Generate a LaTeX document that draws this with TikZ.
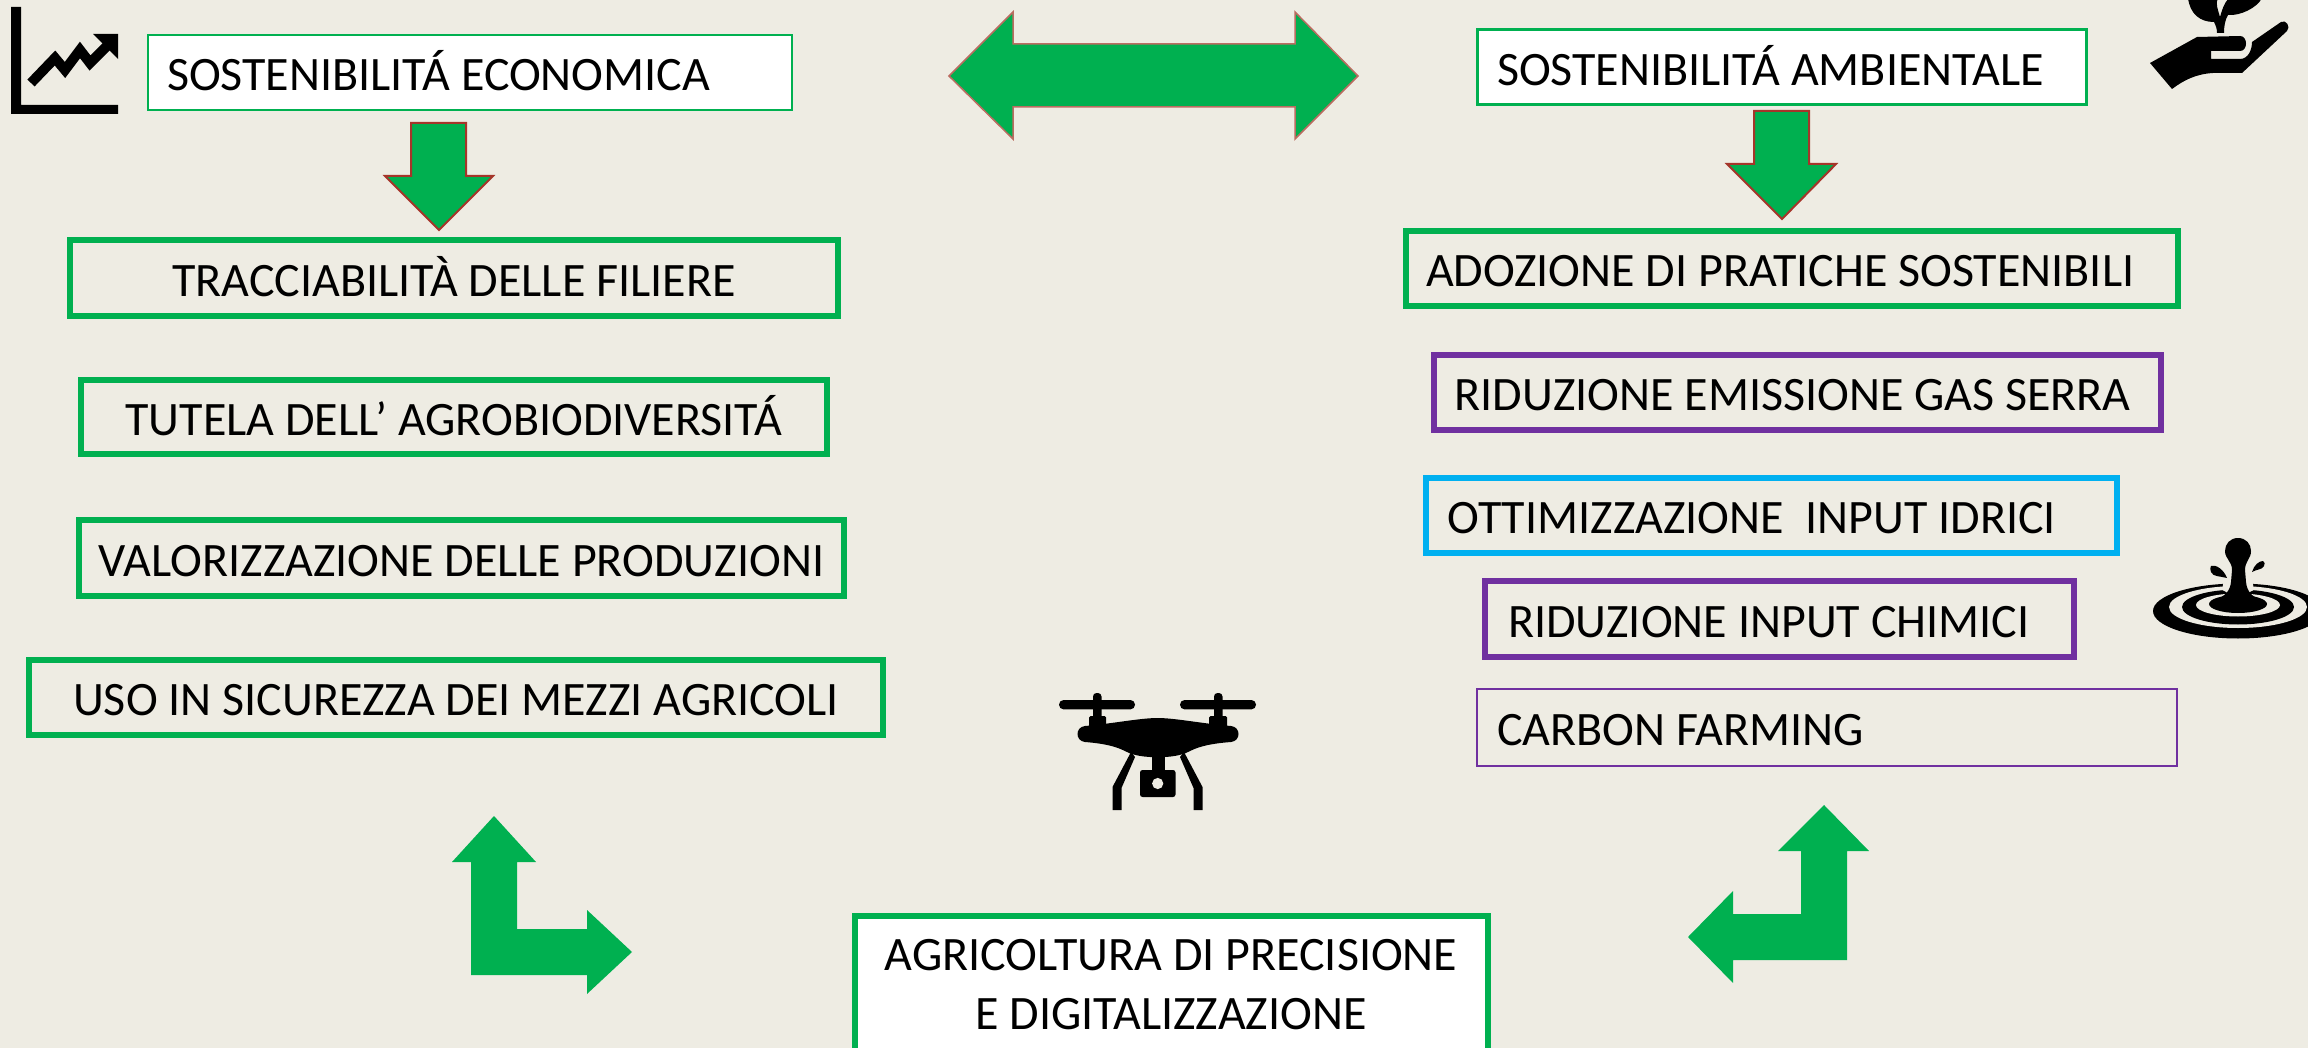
\documentclass[tikz,border=0pt]{standalone}
\usepackage{fontspec}
\setmainfont{Carlito}
\definecolor{bgc}{HTML}{EEECE3}
\definecolor{grn}{HTML}{00B050}
\definecolor{prp}{HTML}{7030A0}
\definecolor{blu}{HTML}{00B0F0}
\definecolor{red1}{HTML}{A5352A}
\tikzset{
  lbl/.style={inner sep=0pt,outer sep=0pt,font=\fontsize{48}{59}\selectfont,text=black},
  arrowa/.style={fill=grn,draw=red1,line width=2pt,line join=miter},
  arrowb/.style={fill=grn,draw=none},
  arrowc/.style={fill=grn,draw=red1!70!bgc,line width=1.5pt},
  ico/.style={fill=black,draw=none}
}
% colour, name, line width, x1,y1,x2,y2, baseline, fill; content in \bxtext
\newcommand{\bx}[9]{%
  \pgfmathsetmacro{\mycx}{(#4+#6)/2}%
  \pgfmathsetmacro{\mycy}{(#5+#7)/2}%
  \pgfmathsetmacro{\myw}{#6-#4-#3}%
  \pgfmathsetmacro{\myh}{#7-#5-#3}%
  \pgfmathsetmacro{\myr}{\mycy+13.5-#8}%
  \node[lbl,draw=#1,line width=#3pt,fill=#9,minimum width=\myw pt,minimum height=\myh pt,
        text height=30pt,text depth=0pt,anchor=center] (#2) at (\mycx,\mycy) {\raisebox{\myr pt}{\bxtext}};%
}
\begin{document}
\begin{tikzpicture}[x=1pt,y=-1pt]
\path[use as bounding box,clip] (0,0) rectangle (2308,1048);
\fill[bgc] (0,0) rectangle (2308,1048);

% boxes, left column
\def\bxtext{\makebox[644pt][l]{\hspace*{19pt}SOSTENIBILITÁ ECONOMICA}}
\bx{grn}{eco}{2}{148}{34}{792}{111}{89}{white}
\def\bxtext{TRACCIABILITÀ DELLE FILIERE}
\bx{grn}{tra}{6}{67}{237}{841}{319}{295}{bgc}
\def\bxtext{TUTELA DELL’ AGROBIODIVERSITÁ}
\bx{grn}{tut}{6}{78}{377}{830}{457}{434}{bgc}
\def\bxtext{VALORIZZAZIONE DELLE PRODUZIONI}
\bx{grn}{val}{6}{76}{517}{847}{599}{575}{bgc}
\def\bxtext{USO IN SICUREZZA DEI MEZZI AGRICOLI}
\bx{grn}{uso}{6}{26}{657}{886}{738}{714}{bgc}

% boxes, right column
\def\bxtext{\makebox[609pt][l]{\hspace*{20pt}SOSTENIBILITÁ AMBIENTALE}}
\bx{grn}{amb}{3}{1477}{28}{2086}{106}{84}{white}
\def\bxtext{\makebox[772pt][l]{\hspace*{20pt}ADOZIONE DI PRATICHE SOSTENIBILI}}
\bx{grn}{ado}{6}{1406}{228}{2178}{309}{285}{bgc}
\def\bxtext{\makebox[727pt][l]{\hspace*{21pt}RIDUZIONE EMISSIONE GAS SERRA}}
\bx{prp}{emi}{6}{1433}{352}{2161}{433}{409}{bgc}
\def\bxtext{\makebox[691pt][l]{\hspace*{22pt}OTTIMIZZAZIONE\ \ INPUT IDRICI}}
\bx{blu}{ott}{6}{1426}{475}{2116}{556}{532}{bgc}
\def\bxtext{\makebox[589pt][l]{\hspace*{23pt}RIDUZIONE INPUT CHIMICI}}
\bx{prp}{chi}{6}{1485}{578}{2074}{660}{636}{bgc}
\def\bxtext{\makebox[700pt][l]{\hspace*{20pt}CARBON FARMING}}
\bx{prp}{car}{2}{1477}{688}{2177}{767}{744}{bgc}

% bottom box
\node[lbl,draw=grn,line width=6pt,fill=white,minimum width=633pt,minimum height=138pt,align=center,anchor=center] (agr) at (1171,984.5)
  {AGRICOLTURA DI PRECISIONE\\E DIGITALIZZAZIONE};

% block arrows
\draw[arrowc] (949,76) -- (1013,12) -- (1013,44) -- (1295,44) -- (1295,12) -- (1358,76) -- (1295,139) -- (1295,107) -- (1013,107) -- (1013,139) -- cycle;
\draw[arrowa] (411,123) -- (466,123) -- (466,176) -- (493,176) -- (439,230) -- (385,176) -- (411,176) -- cycle;
\draw[arrowa] (1754,111) -- (1809,111) -- (1809,164) -- (1836,164) -- (1782,219) -- (1727,164) -- (1754,164) -- cycle;
\fill[arrowb] (494,816) -- (536,862) -- (517,862) -- (517,929) -- (587,929) -- (587,910) -- (632,952) -- (587,994) -- (587,975) -- (471,975) -- (471,862) -- (452,862) -- cycle;
\fill[arrowb] (1824,805) -- (1869,851) -- (1847,851) -- (1847,960) -- (1733,960) -- (1733,983) -- (1688,937) -- (1733,891) -- (1733,914) -- (1801,914) -- (1801,851) -- (1778,851) -- cycle;

% chart icon
\fill[ico] (11,7) -- (21,7) -- (21,105) -- (118,105) -- (118,114) -- (11,114) -- cycle;
\draw[black,line width=10pt,line join=miter] (31,83) -- (55,58) -- (65,70) -- (80,50) -- (90,63) -- (112,41);
\fill[ico] (93,34) -- (118,34) -- (118,59) -- cycle;

% plant in hand icon
\fill[ico] (2150,63) -- (2197,37) -- (2240,36) .. controls (2248,36) and (2248,51) .. (2240,51) -- (2211,51) -- (2211,59) -- (2240,59) .. controls (2248,59) and (2252,50) .. (2252,42) -- (2281,22) .. controls (2286,19) and (2291,27) .. (2287,31) -- (2242,73) -- (2213,73) .. controls (2196,74) and (2184,80) .. (2172,89) -- cycle;
\fill[ico] (2188,-2) .. controls (2190,14) and (2200,22) .. (2214,22) .. controls (2216,26) and (2217,29) .. (2217,33) -- (2224,33) .. controls (2224,26) and (2225,20) .. (2228,15) .. controls (2240,16) and (2257,8) .. (2262,-2) -- (2229,-2) .. controls (2224,3) and (2222,10) .. (2220,17) .. controls (2218,10) and (2215,3) .. (2218,-2) -- cycle;

% drone icon
\fill[ico,rounded corners=4.6pt] (1059,700) rectangle (1135,709.4);
\fill[ico,rounded corners=4.6pt] (1180,700) rectangle (1256,709.4);
\fill[ico,rounded corners=3.5pt] (1093,693) rectangle (1101.5,722);
\fill[ico,rounded corners=3.5pt] (1214,693) rectangle (1222.5,722);
\fill[ico,rounded corners=1.5pt] (1089,716) rectangle (1106,730);
\fill[ico,rounded corners=1.5pt] (1209,716) rectangle (1227,730);
\fill[ico] (1085,726) .. controls (1110,724) and (1140,718) .. (1157.7,718) .. controls (1175,718) and (1205,724) .. (1231,726) .. controls (1241,727) and (1241,741) .. (1231,742) .. controls (1205,744) and (1196,748) .. (1188,752) .. controls (1175,759) and (1140,759) .. (1127,752) .. controls (1119,748) and (1110,744) .. (1085,742) .. controls (1075,741) and (1075,727) .. (1085,726) -- cycle;
\fill[ico] (1131,752) -- (1135,757) -- (1121.5,788) -- (1121.5,810) -- (1112.5,810) -- (1112.5,787) -- cycle;
\fill[ico] (1184,752) -- (1180,757) -- (1193.5,788) -- (1193.5,810) -- (1202.5,810) -- (1202.5,787) -- cycle;
\fill[ico] (1151.5,756) rectangle (1164.5,772);
\fill[ico,rounded corners=2.5pt] (1140,770) rectangle (1175.5,797);
\fill[bgc] (1157.7,783.5) circle (5.6);

% water drop icon
\fill[ico] (2238,611) ellipse [x radius=85,y radius=27.5];
\fill[bgc] (2238,607) ellipse [x radius=69,y radius=21];
\fill[ico] (2238,607) ellipse [x radius=56,y radius=17.5];
\fill[bgc] (2238,605) ellipse [x radius=42,y radius=11.5];
\fill[ico] (2238,604) ellipse [x radius=29,y radius=9];
\fill[bgc] (2224,579) -- (2252,579) -- (2254,590) .. controls (2249,592) and (2247,593) .. (2250,596) -- (2226,596) .. controls (2229,593) and (2227,592) .. (2222,590) -- cycle;
\fill[ico] (2238,538) .. controls (2246,538) and (2251,544) .. (2251,551) .. controls (2251,559) and (2245,561) .. (2245,570) -- (2246,582) .. controls (2247,592) and (2252,596) .. (2260,600) -- (2216,600) .. controls (2224,596) and (2230,592) .. (2231,582) -- (2232,570) .. controls (2232,561) and (2225,559) .. (2225,551) .. controls (2225,544) and (2230,538) .. (2238,538) -- cycle;
\fill[ico] (2211,566) .. controls (2216,564) and (2224,570) .. (2227,578) .. controls (2220,576) and (2213,577) .. (2211,572) .. controls (2210,570) and (2210,567) .. (2211,566) -- cycle;
\fill[ico] (2263,561) .. controls (2259,561) and (2254,565) .. (2252,572) .. controls (2257,569) and (2262,570) .. (2264,566) .. controls (2265,564) and (2265,562) .. (2263,561) -- cycle;
\end{tikzpicture}
\end{document}
